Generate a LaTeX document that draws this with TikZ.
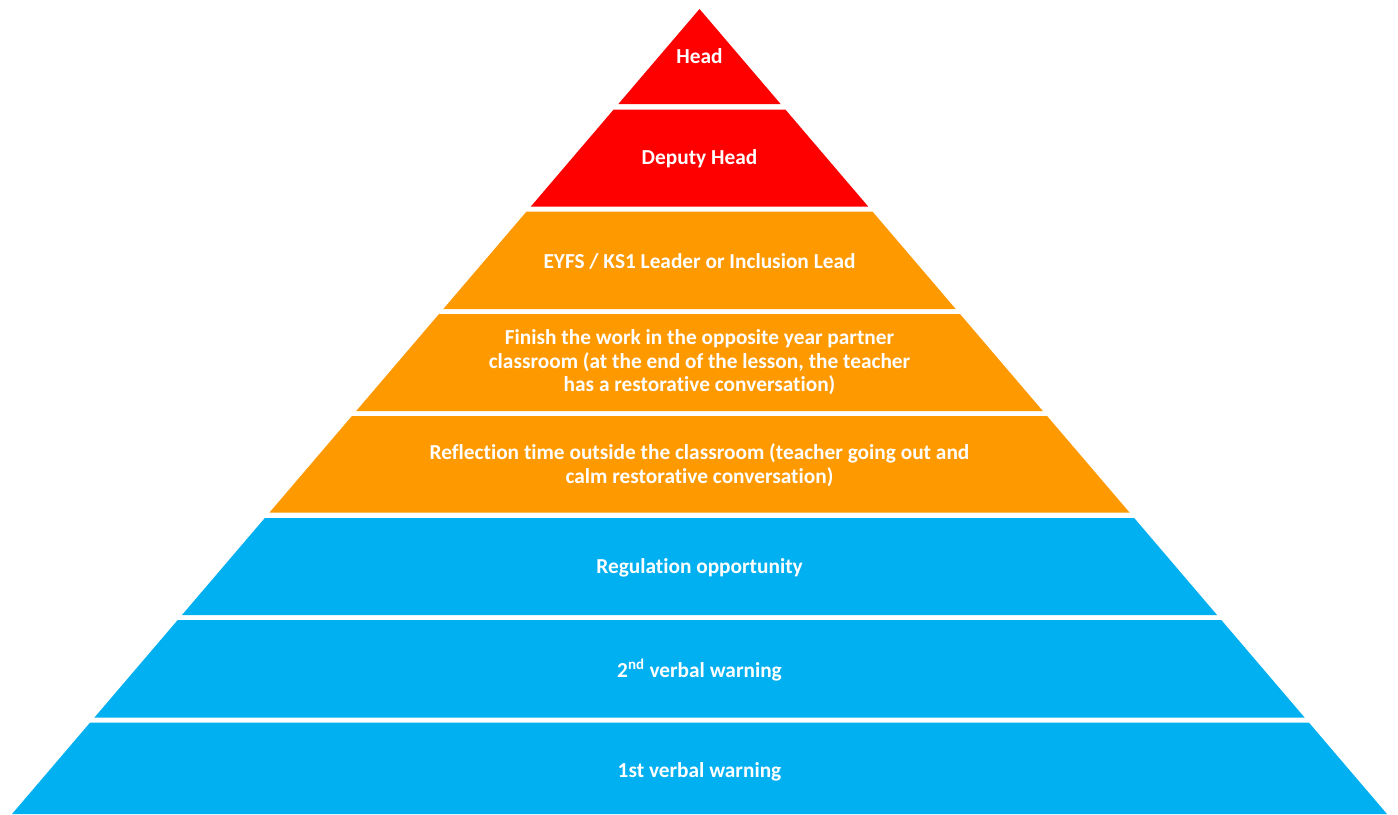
\documentclass[tikz,border=0pt]{standalone}
\usepackage{fontspec}
\setmainfont{Carlito}[Ligatures=NoCommon]
\definecolor{pred}{HTML}{FF0000}
\definecolor{porange}{HTML}{FF9900}
\definecolor{pblue}{HTML}{00B0F0}
\begin{document}
\begin{tikzpicture}[x=0.75pt,y=-0.75pt,
  lbl/.style={text=white,align=center,inner sep=0pt,
    font=\fontsize{16}{17.6}\selectfont\bfseries}]
\useasboundingbox (0,0) rectangle (1398,814);
\fill[white] (0,0) rectangle (1398,814);
\foreach \t/\b/\c in {9/104/pred,109.5/206.5/pred,211.5/309/porange,314/411/porange,416/512.5/porange,518/615/pblue,620/717.5/pblue,722.5/814/pblue}{
  \pgfmathsetmacro\wt{(\t-9)*0.854}
  \pgfmathsetmacro\wb{(\b-9)*0.854}
  \fill[\c] (699.5-\wt,\t) -- (699.5+\wt,\t) -- (699.5+\wb,\b) -- (699.5-\wb,\b) -- cycle;
}
\node[lbl] (head) at (699.5,56) {Head};
\node[lbl] (deputy) at (699.5,158.5) {Deputy Head};
\node[lbl] (eyfs) at (699.5,261) {EYFS / KS1 Leader or Inclusion Lead};
\node[lbl] (finish) at (699.5,362.5) {Finish the work in the opposite year partner\\classroom (at the end of the lesson, the teacher\\has a restorative conversation)};
\node[lbl] (reflect) at (699.5,465) {Reflection time outside the classroom (teacher going out and\\calm restorative conversation)};
\node[lbl] (reg) at (699.5,567.5) {Regulation opportunity};
\node[lbl] (second) at (699.5,670) {2\textsuperscript{nd} verbal warning};
\node[lbl] (first) at (699.5,772) {1st verbal warning};
\end{tikzpicture}
\end{document}
